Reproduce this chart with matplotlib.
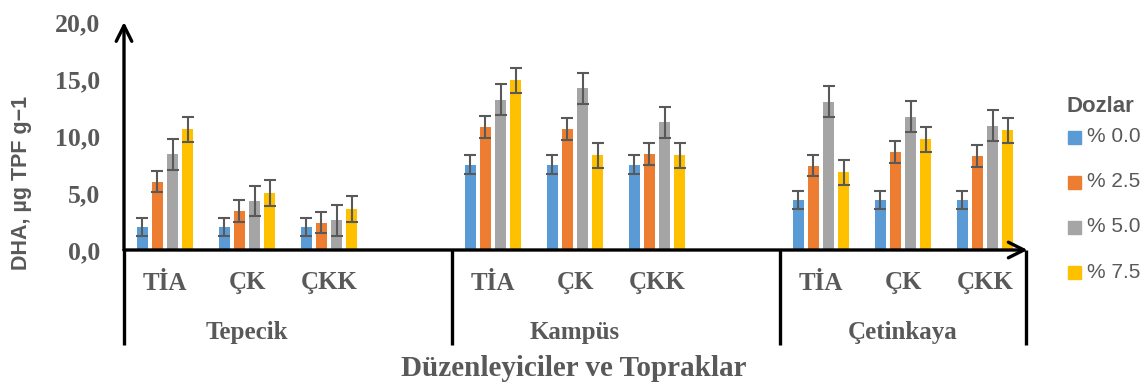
import numpy as np
import matplotlib.pyplot as plt
from matplotlib.patches import Rectangle

# data
soils = ["Tepecik", "Kampüs", "Çetinkaya"]
amendments = ["TİA", "ÇK", "ÇKK"]
doses = ["% 0.0", "% 2.5", "% 5.0", "% 7.5"]
colors = ["#5B9BD5", "#ED7D31", "#A5A5A5", "#FFC000"]

# rows = dose, columns = Tepecik TİA, ÇK, ÇKK, Kampüs TİA, ÇK, ÇKK, Çetinkaya TİA, ÇK, ÇKK
dha = [
    [2.0, 2.0, 2.0, 7.5, 7.5, 7.5, 4.4, 4.4, 4.4],
    [6.0, 3.4, 2.4, 10.8, 10.6, 8.4, 7.4, 8.6, 8.25],
    [8.4, 4.3, 2.6, 13.2, 14.2, 11.2, 13.0, 11.7, 10.9],
    [10.6, 5.0, 3.6, 14.9, 8.3, 8.3, 6.8, 9.7, 10.5],
]
err = [0.8, 0.95, 1.35, 1.1]

# slot positions: 4 slots per soil (last one empty), 3 for the last soil
slots = [0, 1, 2, 4, 5, 6, 8, 9, 10]
dividers = [-0.5, 3.5, 7.5, 10.5]

grey = "#595959"
serif = "Liberation Serif"
sans = "Liberation Sans"
W, H = 1147, 385

fig = plt.figure(figsize=(11.47, 3.85), dpi=100)
ax = fig.add_axes([124 / W, 1 - 250 / H, (1026 - 124) / W, (250 - 22) / H])

step = 0.183
x = np.array(slots, dtype=float)
for i in range(4):
    ax.bar(x + (i - 1.5) * step, dha[i], width=0.145, color=colors[i], zorder=2)
    ax.errorbar(x + (i - 1.5) * step, dha[i], yerr=err[i], fmt="none",
                ecolor=grey, elinewidth=1.5, capsize=4.3, capthick=1.5, zorder=3)

ax.set_xlim(-0.5, 10.5)
ax.set_ylim(0, 20)
ax.set_yticks([0, 5, 10, 15, 20])
ax.set_yticklabels(["0,0", "5,0", "10,0", "15,0", "20,0"])
ax.tick_params(axis="y", length=0, pad=17, labelcolor=grey)
for lab in ax.get_yticklabels():
    lab.set_fontfamily(serif)
    lab.set_fontweight("bold")
    lab.set_fontsize(18.5)
ax.set_xticks([])
for s in ax.spines.values():
    s.set_visible(False)

tr = ax.get_xaxis_transform()
# axis lines with arrow heads
ax.annotate("", xy=(-0.5, 1.0), xytext=(-0.5, 0), xycoords=tr, textcoords=tr,
            arrowprops=dict(arrowstyle="->", lw=2.4, color="black",
                            mutation_scale=28, shrinkA=0, shrinkB=0),
            annotation_clip=False)
ax.annotate("", xy=(10.52, 0), xytext=(-0.5, 0), xycoords=tr, textcoords=tr,
            arrowprops=dict(arrowstyle="->", lw=2.4, color="black",
                            mutation_scale=28, shrinkA=0, shrinkB=0),
            annotation_clip=False)
for d in dividers:
    ax.plot([d, d], [0, -95 / 228], transform=tr, color="black", lw=2.4,
            clip_on=False, solid_capstyle="butt")

# category labels
for k, xs in enumerate(slots):
    ax.text(xs, -33 / 228, amendments[k % 3], transform=tr, ha="center",
            va="center", fontsize=18, fontweight="bold", family=serif,
            color=grey)
for k, name in enumerate(soils):
    ax.text(slots[3 * k + 1], -82 / 228, name, transform=tr, ha="center",
            va="center", fontsize=18, fontweight="bold", family=serif,
            color=grey)

fig.text(574 / W, 1 - 369 / H, "Düzenleyiciler ve Topraklar",
         ha="center", va="center", fontsize=21, fontweight="bold",
         family=serif, color=grey)
fig.text(22 / W, 1 - 183 / H, "DHA, µg TPF g\u22121", rotation=90,
         ha="center", va="center", fontsize=15.5, fontweight="bold",
         family=sans, color=grey)

# legend
fig.text(1067 / W, 1 - 107 / H, "Dozlar", ha="left", va="center",
         fontsize=16, fontweight="bold", family=sans, color=grey)
for i, yy in enumerate([137, 182, 227, 272]):
    fig.add_artist(Rectangle((1068 / W, 1 - (yy + 6.5) / H), 13 / W, 13 / H,
                             transform=fig.transFigure, color=colors[i]))
    fig.text(1087 / W, 1 - yy / H, doses[i], ha="left", va="center",
             fontsize=15, family=sans, color=grey)

fig.savefig("out.png", dpi=100)
